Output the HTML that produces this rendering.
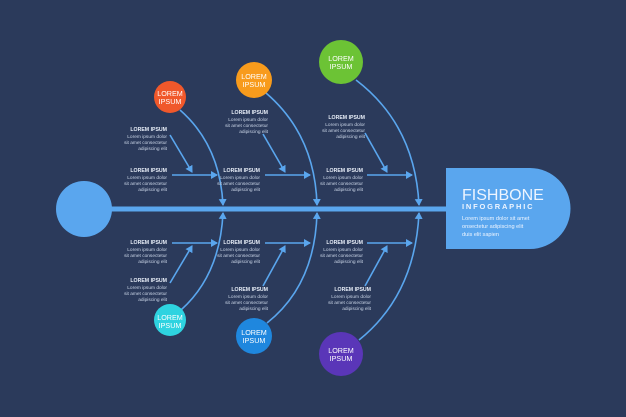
<!DOCTYPE html>
<html><head><meta charset="utf-8"><style>
html,body{margin:0;padding:0;background:#2b3a5b;}
svg{display:block}
text{font-family:"Liberation Sans",sans-serif;}
.t{font-size:5.2px;font-weight:bold;fill:#e8eef8;text-anchor:end}
.s{font-size:4.8px;fill:#c9d4e6;text-anchor:end}
.c{font-size:7.2px;fill:#fff;text-anchor:middle}
</style></head><body>
<svg width="626" height="417" viewBox="0 0 626 417" xmlns="http://www.w3.org/2000/svg">
<defs><marker id="a" markerWidth="8" markerHeight="8" refX="6" refY="4" orient="auto" markerUnits="userSpaceOnUse"><path d="M0,0 L7,4 L0,8 Z" fill="#5aa6ee"/></marker></defs>
<rect width="626" height="417" fill="#2b3a5b"/>
<line x1="100" y1="209" x2="448" y2="209" stroke="#5aa6ee" stroke-width="5"/>
<circle cx="84" cy="209" r="28" fill="#5aa6ee"/>
<path d="M446,168 H530 A40.5,40.5 0 0 1 530,249 H446 Z" fill="#5aa6ee"/>
<text x="462" y="200" font-size="16" fill="#eef5ff">FISHBONE</text>
<text x="462" y="209" font-size="7.5" font-weight="bold" fill="#eef5ff" letter-spacing="1.8">INFOGRAPHIC</text>
<text x="462" y="220" font-size="5.6" fill="#eef5ff">Lorem ipsum dolor sit amet</text>
<text x="462" y="228" font-size="5.6" fill="#eef5ff">onsectetur adipiscing elit</text>
<text x="462" y="236" font-size="5.6" fill="#eef5ff">duis elit sapien</text>
<g fill="none" stroke="#5aa6ee" stroke-width="1.6" marker-end="url(#a)">
<path d="M180,110 Q220,145 223,205"/>
<path d="M266,93 Q315,135 317,205"/>
<path d="M356,80 Q415,125 419,205"/>
<path d="M181,310 Q220,275 223,213"/>
<path d="M267,323 Q315,285 317,213"/>
<path d="M359,340 Q415,295 419,213"/>
<path d="M172,175 H217"/><path d="M265,175 H310"/><path d="M367,175 H412"/>
<path d="M170,135 L192,172"/><path d="M263,134 L285,172"/><path d="M365,133 L387,172"/>
<path d="M172,243 H217"/><path d="M265,243 H310"/><path d="M367,243 H412"/>
<path d="M170,283 L192,246"/><path d="M263,286 L285,246"/><path d="M365,286 L387,246"/>
</g>
<circle cx="170" cy="97" r="16" fill="#f0582b"/>
<circle cx="254" cy="80" r="18" fill="#f89b1c"/>
<circle cx="341" cy="62" r="22" fill="#6cc335"/>
<circle cx="170" cy="320" r="16" fill="#2ed3e0"/>
<circle cx="254" cy="336" r="18" fill="#1f87de"/>
<circle cx="341" cy="354" r="22" fill="#5a36b8"/>
<g>
<text x="170" y="96" class="c">LOREM</text><text x="170" y="104" class="c">IPSUM</text>
<text x="254" y="79" class="c">LOREM</text><text x="254" y="87" class="c">IPSUM</text>
<text x="341" y="61" class="c">LOREM</text><text x="341" y="69" class="c">IPSUM</text>
<text x="170" y="320" class="c">LOREM</text><text x="170" y="328" class="c">IPSUM</text>
<text x="254" y="335" class="c">LOREM</text><text x="254" y="343" class="c">IPSUM</text>
<text x="341" y="353" class="c">LOREM</text><text x="341" y="361" class="c">IPSUM</text>
</g>
<g>
<text class="t" x="167" y="131">LOREM IPSUM</text><text class="s" x="167" y="138">Lorem ipsum dolor</text><text class="s" x="167" y="144">sit amet consectetur</text><text class="s" x="167" y="150">adipiscing elit</text>
<text class="t" x="167" y="172">LOREM IPSUM</text><text class="s" x="167" y="179">Lorem ipsum dolor</text><text class="s" x="167" y="185">sit amet consectetur</text><text class="s" x="167" y="191">adipiscing elit</text>
<text class="t" x="268" y="114">LOREM IPSUM</text><text class="s" x="268" y="121">Lorem ipsum dolor</text><text class="s" x="268" y="127">sit amet consectetur</text><text class="s" x="268" y="133">adipiscing elit</text>
<text class="t" x="260" y="172">LOREM IPSUM</text><text class="s" x="260" y="179">Lorem ipsum dolor</text><text class="s" x="260" y="185">sit amet consectetur</text><text class="s" x="260" y="191">adipiscing elit</text>
<text class="t" x="365" y="119">LOREM IPSUM</text><text class="s" x="365" y="126">Lorem ipsum dolor</text><text class="s" x="365" y="132">sit amet consectetur</text><text class="s" x="365" y="138">adipiscing elit</text>
<text class="t" x="363" y="172">LOREM IPSUM</text><text class="s" x="363" y="179">Lorem ipsum dolor</text><text class="s" x="363" y="185">sit amet consectetur</text><text class="s" x="363" y="191">adipiscing elit</text>
<text class="t" x="167" y="244">LOREM IPSUM</text><text class="s" x="167" y="251">Lorem ipsum dolor</text><text class="s" x="167" y="257">sit amet consectetur</text><text class="s" x="167" y="263">adipiscing elit</text>
<text class="t" x="167" y="282">LOREM IPSUM</text><text class="s" x="167" y="289">Lorem ipsum dolor</text><text class="s" x="167" y="295">sit amet consectetur</text><text class="s" x="167" y="301">adipiscing elit</text>
<text class="t" x="260" y="244">LOREM IPSUM</text><text class="s" x="260" y="251">Lorem ipsum dolor</text><text class="s" x="260" y="257">sit amet consectetur</text><text class="s" x="260" y="263">adipiscing elit</text>
<text class="t" x="268" y="291">LOREM IPSUM</text><text class="s" x="268" y="298">Lorem ipsum dolor</text><text class="s" x="268" y="304">sit amet consectetur</text><text class="s" x="268" y="310">adipiscing elit</text>
<text class="t" x="363" y="244">LOREM IPSUM</text><text class="s" x="363" y="251">Lorem ipsum dolor</text><text class="s" x="363" y="257">sit amet consectetur</text><text class="s" x="363" y="263">adipiscing elit</text>
<text class="t" x="371" y="291">LOREM IPSUM</text><text class="s" x="371" y="298">Lorem ipsum dolor</text><text class="s" x="371" y="304">sit amet consectetur</text><text class="s" x="371" y="310">adipiscing elit</text>
</g>
</svg>
</body></html>
